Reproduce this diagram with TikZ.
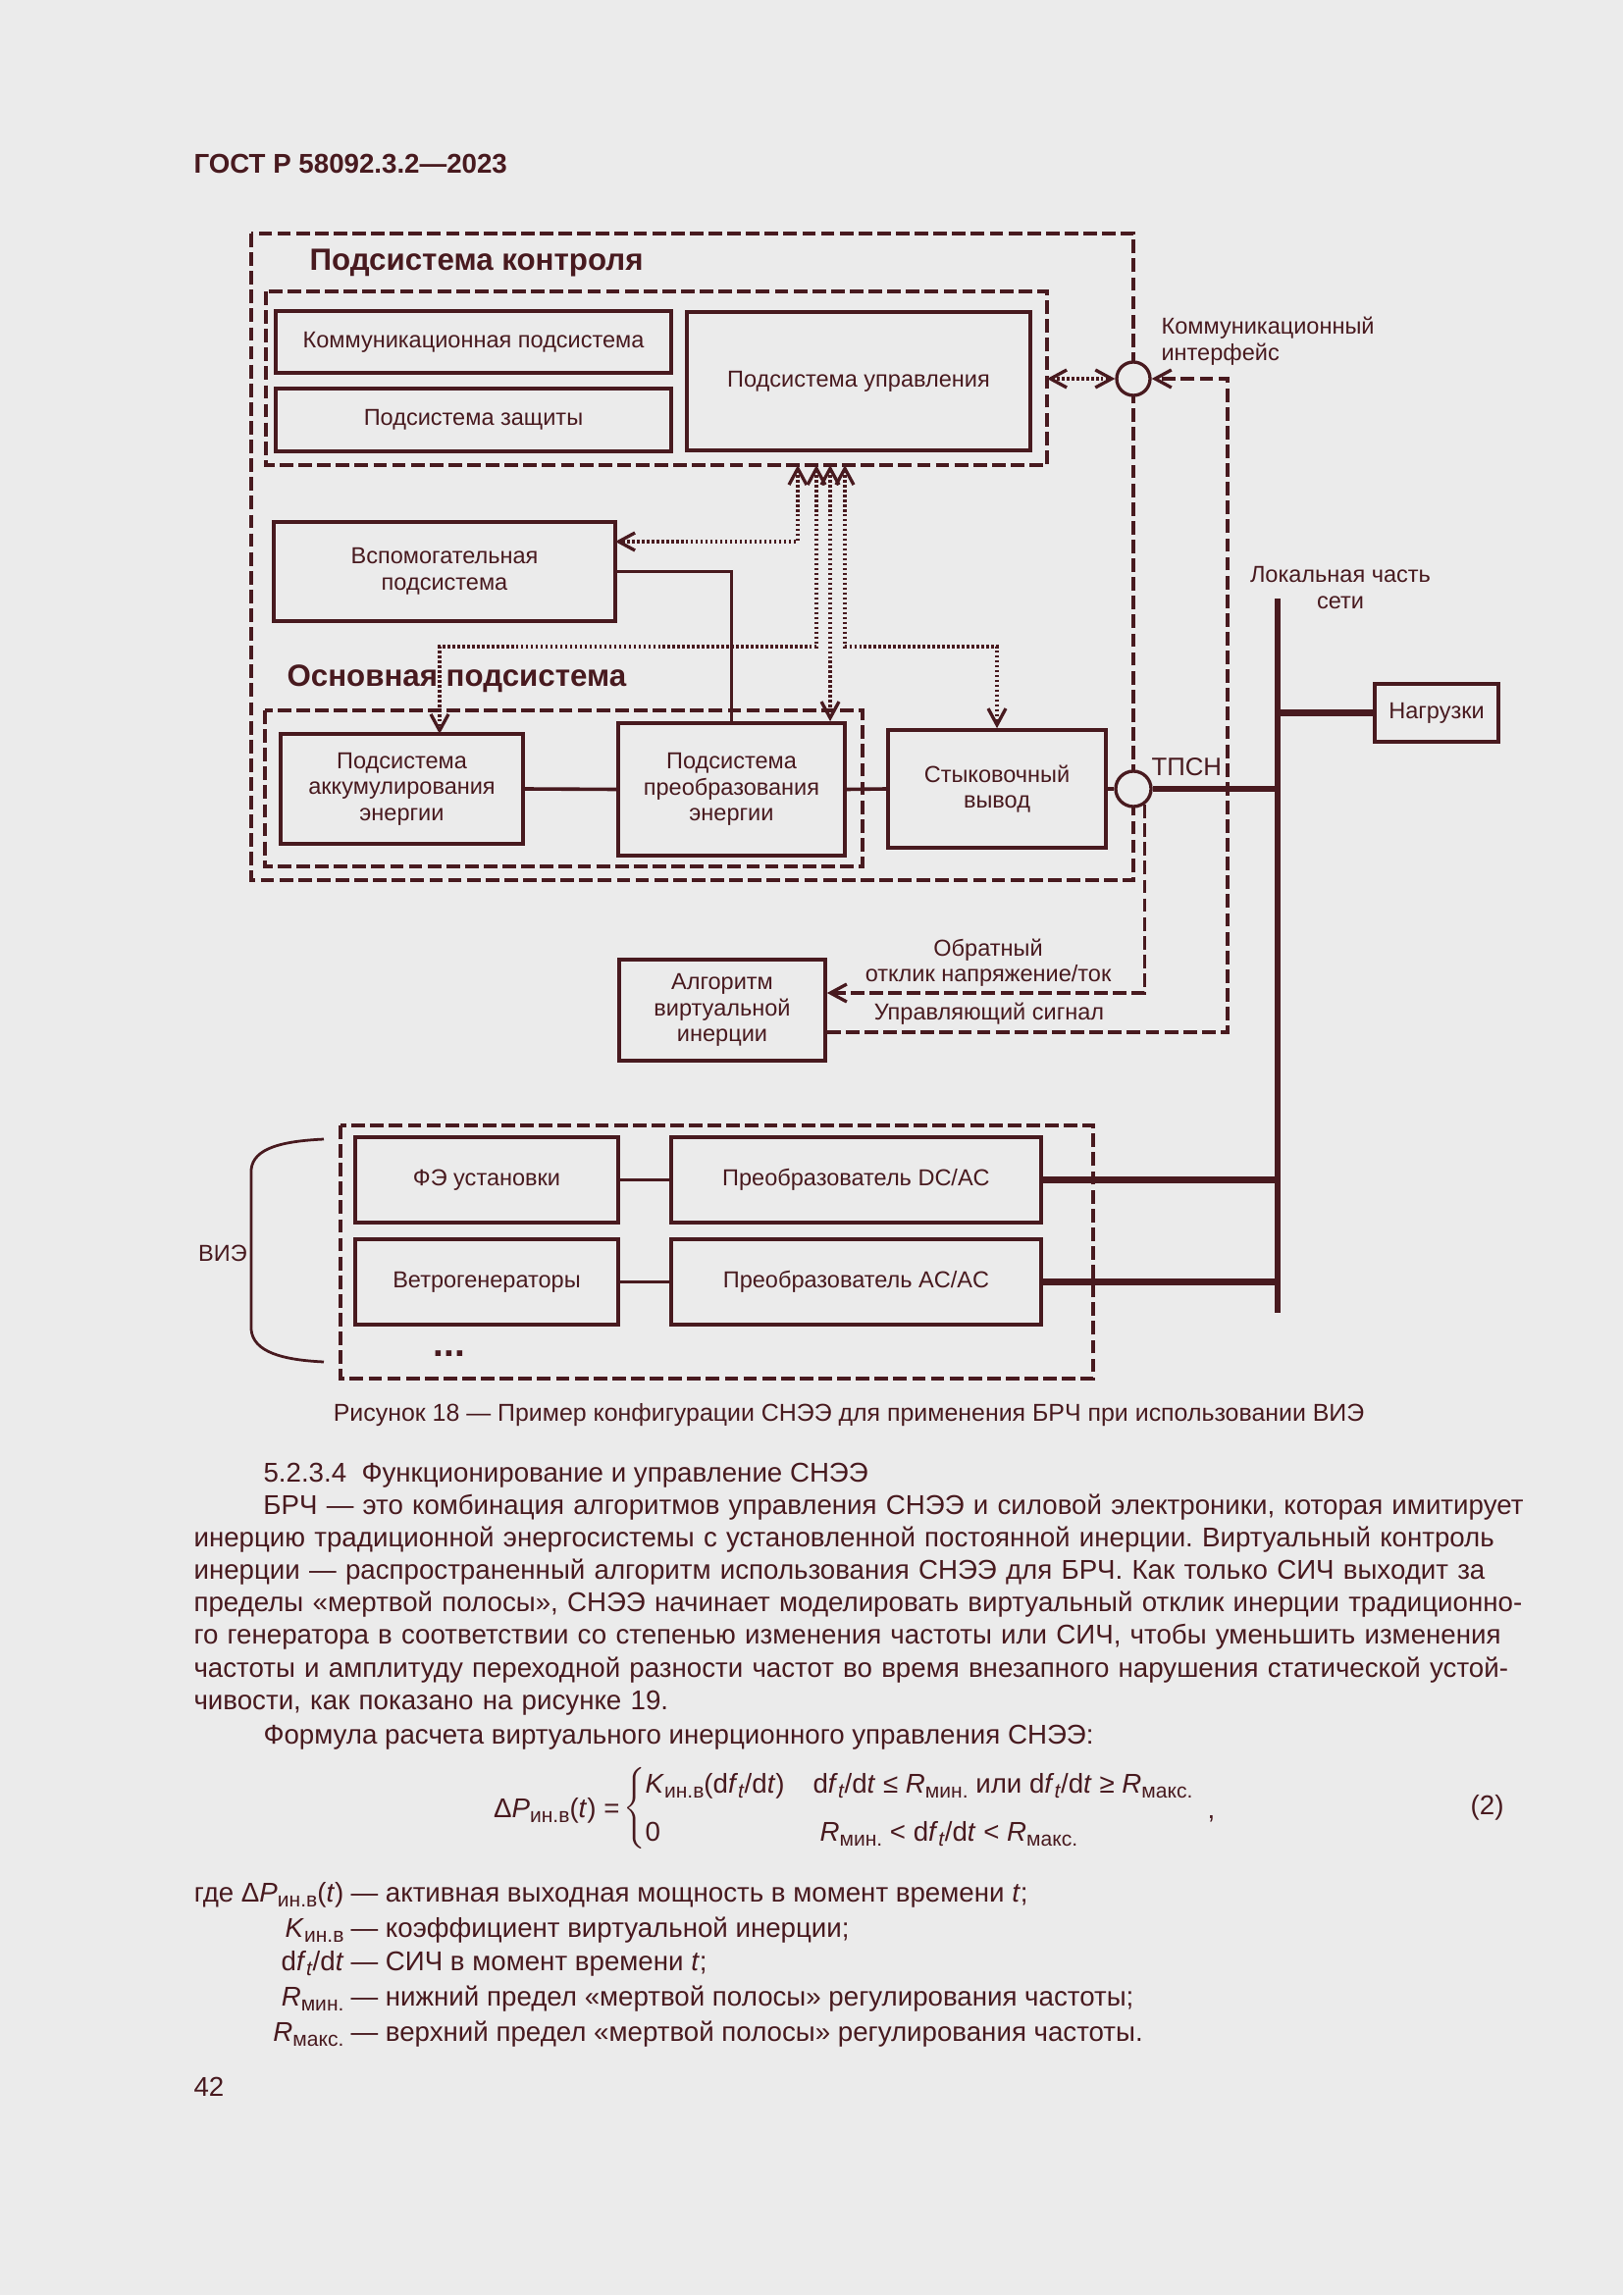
\documentclass[tikz,border=0pt]{standalone}
\usepackage{fontspec}
\setmainfont{Liberation Sans}
\usetikzlibrary{arrows.meta,calc}
\definecolor{ink}{RGB}{72,26,31}
\definecolor{paper}{RGB}{235,235,235}
\newcommand{\pxl}{0.0127cm}
\newcommand{\nizh}[1]{\raisebox{-0.4ex}{\fontsize{7.6}{8}\selectfont #1}}
\frenchspacing

\begin{document}
\begin{tikzpicture}[x=0.0127cm,y=-0.0127cm,color=ink,
  txt/.style={inner sep=0pt,align=center,font=\fontsize{8.5}{9.6}\selectfont},
  body/.style={inner sep=0pt,font=\fontsize{10}{12}\selectfont},
  blok/.style={draw,line width=1.3pt,inner sep=0pt,align=center,font=\fontsize{8.5}{9.6}\selectfont},
  ramka/.style={line width=1.2pt,dash pattern=on 5pt off 1.9pt},
  tochki/.style={line width=1.2pt,dash pattern=on 0.9pt off 0.9pt},
  liniya/.style={line width=1.3pt},
  shina/.style={line width=2.2pt},
  uzel/.style={circle,draw,fill=paper,line width=1.2pt,inner sep=0pt},
  chev/.tip={Straight Barb[length=6pt,width=6.5pt,line width=1.2pt]}]
\fill[paper] (0,0) rectangle (1654,2339);
\useasboundingbox (0,0) rectangle (1654,2339);

\node[body,anchor=west,font=\fontsize{10}{12}\selectfont\bfseries] (hdr) at (197,167) {ГОСТ Р 58092.3.2—2023};

% frames
\draw[ramka] (256,238) rectangle (1155,897);
\draw[ramka] (271,297) rectangle (1067,474);
\draw[ramka] (270,724) rectangle (879,883);
\draw[ramka] (347,1147) rectangle (1114,1405);

\node[txt,anchor=west,font=\fontsize{11.3}{13}\selectfont\bfseries] (tkontr) at (315,268) {Подсистема контроля};
\node[txt,anchor=west,font=\fontsize{11.3}{13}\selectfont\bfseries] (tosn) at (292,692) {Основная подсистема};

% blocks
\node[blok,minimum width=403*\pxl,minimum height=63*\pxl] (kom) at (482.5,348.5) {Коммуникационная подсистема};
\node[blok,minimum width=403*\pxl,minimum height=64*\pxl] (zash) at (482.5,428) {Подсистема защиты};
\node[blok,minimum width=350*\pxl,minimum height=141*\pxl] (upr) at (875,388.5) {Подсистема управления};
\node[blok,minimum width=348*\pxl,minimum height=101*\pxl] (vsp) at (453,582.5) {Вспомогательная\\подсистема};
\node[blok,minimum width=247*\pxl,minimum height=112*\pxl] (akk) at (409.5,804) {Подсистема\\аккумулирования\\энергии};
\node[blok,minimum width=231*\pxl,minimum height=135*\pxl] (preo) at (745.5,804.5) {Подсистема\\преобразования\\энергии};
\node[blok,minimum width=222*\pxl,minimum height=120*\pxl] (styk) at (1016,804) {Стыковочный\\вывод};
\node[blok,minimum width=210*\pxl,minimum height=103*\pxl] (alg) at (736,1029.5) {Алгоритм\\виртуальной\\инерции};
\node[blok,minimum width=126*\pxl,minimum height=59*\pxl] (nagr) at (1464,726.5) {Нагрузки};
\node[blok,minimum width=268*\pxl,minimum height=87*\pxl] (fe) at (496,1202.5) {ФЭ установки};
\node[blok,minimum width=377*\pxl,minimum height=87*\pxl] (dcac) at (872.5,1202.5) {Преобразователь DC/AC};
\node[blok,minimum width=268*\pxl,minimum height=87*\pxl] (veter) at (496,1306.5) {Ветрогенераторы};
\node[blok,minimum width=377*\pxl,minimum height=87*\pxl] (acac) at (872.5,1306.5) {Преобразователь AC/AC};

\node[uzel,minimum size=34*\pxl] (ki) at (1155,386) {};
\node[uzel,minimum size=36*\pxl] (tpsn) at (1155,804) {};

% labels
\node[txt,align=left,anchor=west] (kilbl) at (1183,348) {Коммуникационный\\интерфейс};
\node[txt] (lokal) at (1366,599) {Локальная часть\\сети};
\node[txt,anchor=west,font=\fontsize{9.3}{10}\selectfont] (tpsnlbl) at (1173,782) {ТПСН};
\node[txt] (obr) at (1007,981) {Обратный\\отклик напряжение/ток};
\node[txt] (upsig) at (1008,1033) {Управляющий сигнал};
\node[txt] (vie) at (227,1277) {ВИЭ};
\node[txt,font=\fontsize{14}{14}\selectfont\bfseries] (mnogo) at (458,1380) {...};

% control links
\coordinate (bR) at (1067,386);
\coordinate (ctl) at (1251,1052);
\coordinate (fb) at (0,1012);
\draw[tochki,chev-chev] (bR) -- (ki.west);
\draw[ramka,-chev] (alg.east |- ctl) -- (ctl) |- (ki.east);
\draw[ramka,-chev] (tpsn.-55) |- (alg.east |- fb);

\coordinate (d1) at (813,474);
\coordinate (d2) at (832,474);
\coordinate (d3) at (846,474);
\coordinate (d4) at (861,474);
\coordinate (vspIn) at (627,552);
\coordinate (akkIn) at (448,748);
\coordinate (lvl) at (0,659);
\draw[tochki,chev-chev] (d1) |- (vspIn);
\draw[tochki,chev-chev] (d2) |- (akkIn |- lvl) -- (akkIn);
\draw[tochki,chev-chev] (d3) -- (d3 |- preo.north);
\draw[tochki,chev-chev] (d4) |- (styk.north |- lvl) -- (styk.north);

% power links
\coordinate (busT) at (1302,610);
\coordinate (busB) at (1302,1338);
\draw[liniya] (vsp.east) -| (preo.north);
\draw[liniya] (akk.east) -- (preo.west);
\draw[liniya] (preo.east) -- (styk.west);
\draw[liniya] (styk.east) -- (tpsn.west);
\draw[liniya] (fe.east) -- (dcac.west);
\draw[liniya] (veter.east) -- (acac.west);
\draw[shina] (busT) -- (busB);
\draw[shina] (tpsn.east) -- (tpsn.east -| busT);
\draw[shina] (busT |- nagr.west) -- (nagr.west);
\draw[shina] (dcac.east) -- (dcac.east -| busT);
\draw[shina] (acac.east) -- (acac.east -| busT);

% brace
\draw[line width=1pt] (330,1161) .. controls (288,1163) and (258,1170) .. (256,1192)
  -- (256,1355) .. controls (258,1378) and (288,1386) .. (330,1388);

\node[body,font=\fontsize{9}{11}\selectfont] (capt) at (865,1442) {Рисунок 18 — Пример конфигурации СНЭЭ для применения БРЧ при использовании ВИЭ};

% text
\node[body,anchor=base west] (razd) at (268,1510) {5.2.3.4\ \ Функционирование и управление СНЭЭ};
\node[body,anchor=base west,text width=16.97cm] (abz) at (197,1543) {%
\hbox to\linewidth{\hspace*{0.9cm}БРЧ — это комбинация алгоритмов управления СНЭЭ и силовой электроники, которая имитирует}\par
\hbox to\linewidth{инерцию традиционной энергосистемы с установленной постоянной инерции. Виртуальный контроль}\par
\hbox to\linewidth{инерции — распространенный алгоритм использования СНЭЭ для БРЧ. Как только СИЧ выходит за}\par
\hbox to\linewidth{пределы «мертвой полосы», СНЭЭ начинает моделировать виртуальный отклик инерции традиционно-}\par
\hbox to\linewidth{го генератора в соответствии со степенью изменения частоты или СИЧ, чтобы уменьшить изменения}\par
\hbox to\linewidth{частоты и амплитуду переходной разности частот во время внезапного нарушения статической устой-}\par
\hbox{чивости, как показано на рисунке 19.}};
\node[body,anchor=base west] (form) at (268,1777) {Формула расчета виртуального инерционного управления СНЭЭ:};

\node[body,anchor=base east] (eqlhs) at (632,1852) {Δ\textit{P}\nizh{ин.в}(\textit{t}) =};
\node[body,anchor=west] (eqbr) at (635,1843) {$\left\{\rule[-0.42cm]{0pt}{0.84cm}\right.$};
\node[body,anchor=base west] (eq11) at (657,1827) {\textit{K}\nizh{ин.в}(d\textit{f}\nizh{\textit{t}}/d\textit{t})};
\node[body,anchor=base west] (eq12) at (828,1827) {d\textit{f}\nizh{\textit{t}}/d\textit{t} ≤ \textit{R}\nizh{мин.} или d\textit{f}\nizh{\textit{t}}/d\textit{t} ≥ \textit{R}\nizh{макс.}};
\node[body,anchor=base west] (eq21) at (657,1876) {0};
\node[body,anchor=base west] (eq22) at (835,1876) {\textit{R}\nizh{мин.} < d\textit{f}\nizh{\textit{t}}/d\textit{t} < \textit{R}\nizh{макс.}};
\node[body,anchor=base west] (eqcom) at (1230,1853) {,};
\node[body,anchor=base east] (eqnum) at (1533,1849) {(2)};

\node[body,anchor=base east] (g1) at (351,1938) {где Δ\textit{P}\nizh{ин.в}(\textit{t})};
\node[body,anchor=base west] (o1) at (357,1938) {— активная выходная мощность в момент времени \textit{t};};
\node[body,anchor=base east] (g2) at (351,1974) {\textit{K}\nizh{ин.в}};
\node[body,anchor=base west] (o2) at (357,1974) {— коэффициент виртуальной инерции;};
\node[body,anchor=base east] (g3) at (351,2008) {d\textit{f}\nizh{\textit{t}}/d\textit{t}};
\node[body,anchor=base west] (o3) at (357,2008) {— СИЧ в момент времени \textit{t};};
\node[body,anchor=base east] (g4) at (351,2044) {\textit{R}\nizh{мин.}};
\node[body,anchor=base west] (o4) at (357,2044) {— нижний предел «мертвой полосы» регулирования частоты;};
\node[body,anchor=base east] (g5) at (351,2080) {\textit{R}\nizh{макс.}};
\node[body,anchor=base west] (o5) at (357,2080) {— верхний предел «мертвой полосы» регулирования частоты.};

\node[body,anchor=west] (pnum) at (197,2127) {42};
\end{tikzpicture}
\end{document}
